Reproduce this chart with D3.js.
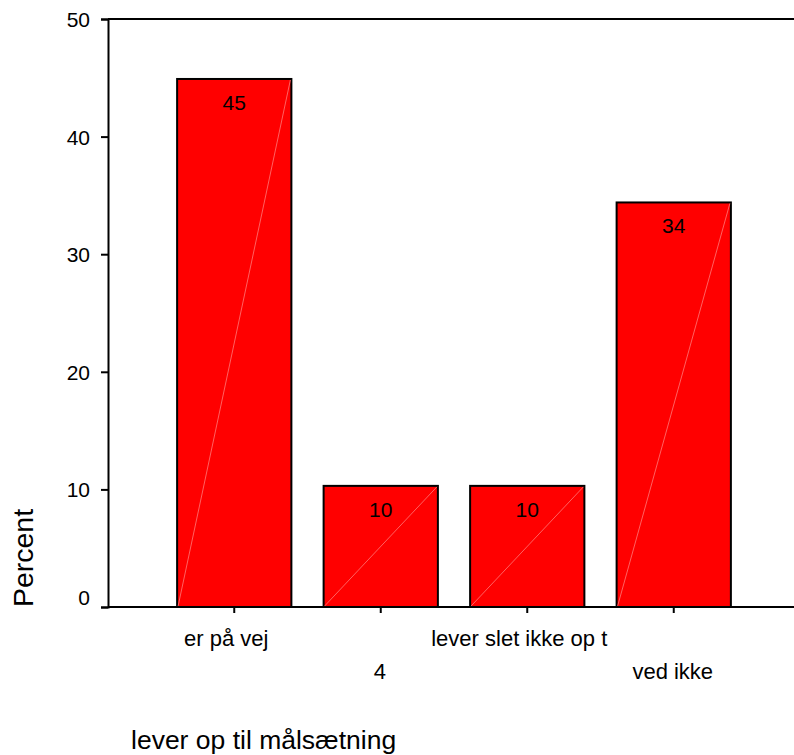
<!DOCTYPE html>
<html><head><meta charset="utf-8">
<script src="https://cdn.jsdelivr.net/npm/d3@7"></script>
<style>body{margin:0;background:#fff}svg{display:block}text{font-family:"Liberation Sans",Arial,sans-serif;fill:#000}</style>
</head><body>
<script>
const categories = ["er på vej", "4", "lever slet ikke op t", "ved ikke"];
const percents = [44.9, 10.3, 10.3, 34.4];
const yTicks = [0, 10, 20, 30, 40, 50];
const yTitle = "Percent";
const xTitle = "lever op til målsætning";

const W = 794, H = 755;
const FONT = '"Liberation Sans",Arial,sans-serif';
const svg = d3.select("body").append("svg").attr("width", W).attr("height", H);

const axisX = 108, plotTop = 19, plotBase = 607;
const x = d3.scaleBand().domain(categories).range([161, 747]).paddingInner(0.22).paddingOuter(0.11);
const y = d3.scaleLinear().domain([0, 50]).range([plotBase, plotTop]);

// bars
const bars = svg.append("g");
bars.selectAll("rect").data(percents).join("rect")
  .attr("x", (d, i) => x(categories[i]))
  .attr("y", d => y(d))
  .attr("width", x.bandwidth())
  .attr("height", d => y(0) - y(d))
  .attr("fill", "#ff0000").attr("stroke", "#000").attr("stroke-width", 2);
bars.selectAll("line").data(percents).join("line")
  .attr("x1", (d, i) => x(categories[i]) + 1)
  .attr("y1", y(0) - 1)
  .attr("x2", (d, i) => x(categories[i]) + x.bandwidth() - 1)
  .attr("y2", d => y(d) + 1)
  .attr("stroke", "#ff7a7a").attr("stroke-width", 0.8);
bars.selectAll("text").data(percents).join("text")
  .attr("x", (d, i) => x(categories[i]) + x.bandwidth() / 2)
  .attr("y", d => y(d) + 31)
  .attr("text-anchor", "middle").attr("font-size", 21)
  .text(d => d3.format(".0f")(d));

// frame lines
svg.append("line").attr("x1", axisX).attr("x2", W).attr("y1", plotTop).attr("y2", plotTop).attr("stroke", "#000").attr("stroke-width", 2);
svg.append("line").attr("x1", axisX).attr("x2", W).attr("y1", plotBase).attr("y2", plotBase).attr("stroke", "#000").attr("stroke-width", 2);

// y axis
const yAxis = svg.append("g").attr("transform", `translate(${axisX},0)`)
  .call(d3.axisLeft(y).tickValues(yTicks).tickSize(7).tickPadding(11));
yAxis.select(".domain").attr("stroke-width", 2);
yAxis.selectAll(".tick line").attr("stroke-width", 2);
yAxis.selectAll(".tick text").attr("font-size", 21).attr("font-family", FONT)
  .attr("dy", d => d === 0 ? "-0.12em" : "0.36em");

// x axis
const xAxis = svg.append("g").attr("transform", `translate(0,${plotBase})`)
  .call(d3.axisBottom(x).tickSize(6).tickSizeOuter(0));
xAxis.select(".domain").remove();
xAxis.selectAll(".tick line").attr("stroke-width", 2);
xAxis.selectAll(".tick text").attr("font-size", 22).attr("font-family", FONT)
  .attr("y", (d, i) => i % 2 === 0 ? 39 : 72).attr("dy", 0)
  .attr("dx", (d, i) => i % 2 === 0 ? -8 : -1);

// titles
svg.append("text").attr("transform", `translate(33,558) rotate(-90)`)
  .attr("text-anchor", "middle").attr("font-size", 28.5).text(yTitle);
svg.append("text").attr("x", 131).attr("y", 749).attr("font-size", 26.5).text(xTitle);
</script>
</body></html>
